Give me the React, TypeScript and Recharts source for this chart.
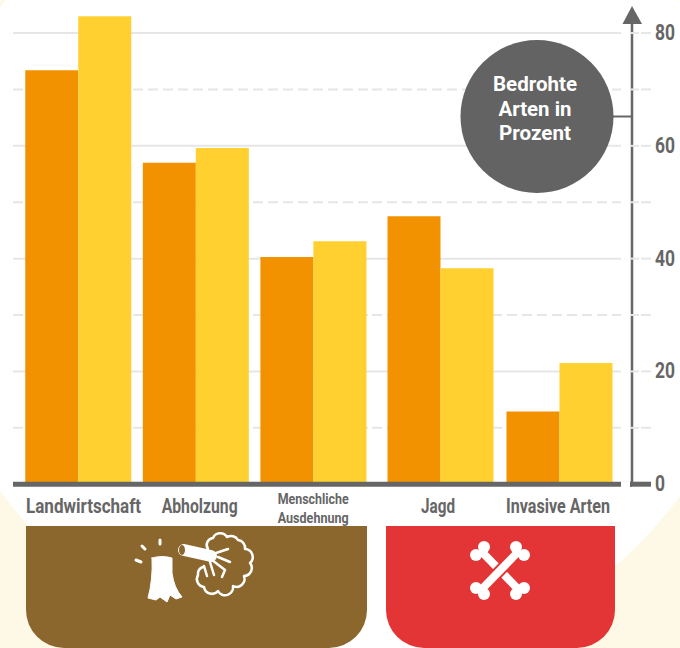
import { BarChart, Bar, XAxis, YAxis, CartesianGrid } from 'recharts';

const habitatCategories = ['Landwirtschaft', 'Abholzung', 'Menschliche\nAusdehnung'];
const habitatOrange = [73.4, 57, 40.3];
const habitatYellow = [83, 59.6, 43.1];

const huntingCategories = ['Jagd', 'Invasive Arten'];
const huntingOrange = [47.5, 12.9];
const huntingYellow = [38.3, 21.5];

const yTicks = [0, 10, 20, 30, 40, 50, 60, 70, 80];
const majorLines = [20, 40, 60, 80];
const minorLines = [10, 30, 50, 70];
const calloutLines = ['Bedrohte', 'Arten in', 'Prozent'];

const toRows = (names: string[], a: number[], b: number[]) =>
  names.map((name, i) => ({ name, orange: a[i], yellow: b[i] }));

const FONT = 'Roboto, sans-serif';
const GREY = '#666666';
const GRID = '#e6e6e6';
const ORANGE = '#f39200';
const YELLOW = '#ffd030';
const DOMAIN: [number, number] = [0, 84];
const CHART_MARGIN_TOP = 10.5;
const CHART_MARGIN_BOTTOM = 103.8;

// the reference uses a condensed face, so each label is squeezed to its measured width
const labelNudge: Record<string, number> = { Landwirtschaft: 5.5, Abholzung: 4, Jagd: -2, 'Invasive Arten': -1 };
const labelWidth: Record<string, number> = {
  Landwirtschaft: 115, Abholzung: 76, Menschliche: 71, Ausdehnung: 71, Jagd: 34, 'Invasive Arten': 104,
};
const calloutWidth = [84, 73, 72];

function XTick({ x, y, payload }: any) {
  const lines = String(payload.value).split('\n');
  const nudge = labelNudge[payload.value] ?? 0;
  if (lines.length > 1) {
    return (
      <g>
        {lines.map((l, i) => (
          <text key={l} x={x + nudge} y={y + 11.5 + i * 19.5} textAnchor="middle" fontFamily={FONT} fontWeight={700} fontSize={15.5} fill={GREY}
            textLength={labelWidth[l]} lengthAdjust="spacingAndGlyphs">
            {l}
          </text>
        ))}
      </g>
    );
  }
  return (
    <text x={x + nudge} y={y + 20.5} textAnchor="middle" fontFamily={FONT} fontWeight={700} fontSize={20} fill={GREY}
      textLength={labelWidth[payload.value]} lengthAdjust="spacingAndGlyphs">
      {payload.value}
    </text>
  );
}

function YTick({ x, y, payload }: any) {
  const v = payload.value;
  const zero = v === 0;
  const major = v % 20 === 0;
  // x is the axis line, the short gap left of the ticks is painted out
  return (
    <g>
      <line x1={x - 19} x2={x - 10} y1={y} y2={y} stroke="#fff" strokeWidth={zero ? 6 : 3} />
      {zero ? (
        <line x1={x - 10} x2={x + 11} y1={y} y2={y} stroke={GREY} strokeWidth={5} />
      ) : (
        <>
          <line x1={x - 10} x2={x - 1} y1={y} y2={y} stroke={GRID} strokeWidth={2} />
          <line x1={x + 1} x2={x + 11} y1={y} y2={y} stroke={GRID} strokeWidth={2} />
        </>
      )}
      {major && (
        <text x={x + 15} y={y + 7} fontFamily={FONT} fontWeight={700} fontSize={22} fill={GREY}
          textLength={zero ? 10 : 20} lengthAdjust="spacingAndGlyphs">
          {v}
        </text>
      )}
    </g>
  );
}

function Grid() {
  return (
    <>
      <CartesianGrid vertical={false} horizontalValues={majorLines} stroke={GRID} strokeWidth={2} />
      <CartesianGrid vertical={false} horizontalValues={minorLines} stroke={GRID} strokeWidth={2} strokeDasharray="10 5" />
    </>
  );
}

function Background() {
  return (
    <svg width={680} height={648} style={{ position: 'absolute', left: 0, top: 0 }}>
      <rect width={680} height={648} fill="#fef8e7" />
      <circle cx={342} cy={249} r={418.5} fill="#fff" />
      <path d="M26 526H367V610A38 38 0 0 1 329 648H64A38 38 0 0 1 26 610Z" fill="#8b672e" />
      <path d="M386 526H615V610A38 38 0 0 1 577 648H424A38 38 0 0 1 386 610Z" fill="#e33535" />
      {/* stump */}
      <g fill="#fff" stroke="#fff" strokeLinecap="round">
        <path d="M152 558Q162 555 172 558L172 573Q174 588 182 597L176 599L170 595L167 602L160 597L156 600L148 598Q153 580 152 558Z" strokeWidth={1} />
        <line x1={160} y1={540} x2={160} y2={544} strokeWidth={3} />
        <line x1={142} y1={546} x2={145} y2={549} strokeWidth={3} />
        <line x1={136} y1={560} x2={141} y2={562} strokeWidth={3} />
      </g>
      {/* fallen tree */}
      <g fill="none" stroke="#fff" strokeLinecap="round" strokeLinejoin="round">
        <line x1={184} y1={550} x2={211} y2={556} strokeWidth={12} />
        <path d="M208 549A7 7 0 0 1 213 538A8 8 0 0 1 227 537A8 8 0 0 1 238 540A8 8 0 0 1 245 549A8 8 0 0 1 250 563A8 8 0 0 1 244 576A8 8 0 0 1 233 586A8 8 0 0 1 218 591A8 8 0 0 1 204 587A8 8 0 0 1 198 575A7 7 0 0 1 203 567" strokeWidth={2.5} />
        <path d="M210 555L228 549M218 557L230 562M212 560L225 570L222 577M210 562L214 575M204 566L207 576" strokeWidth={2.5} />
      </g>
      <ellipse cx={182} cy={550} rx={3} ry={5} fill="#8b672e" />
      {/* crossed bones */}
      <g fill="#fff">
        <line x1={481} y1={551} x2={519} y2={590} stroke="#fff" strokeWidth={8} />
        {[[484, 547], [476, 555], [516, 594], [524, 588]].map(([cx, cy]) => (
          <circle key={`${cx}-${cy}`} cx={cx} cy={cy} r={6} />
        ))}
        <line x1={519} y1={551} x2={481} y2={590} stroke="#e33535" strokeWidth={12} />
        <line x1={519} y1={551} x2={481} y2={590} stroke="#fff" strokeWidth={8} />
        {[[516, 547], [524, 555], [484, 594], [476, 588]].map(([cx, cy]) => (
          <circle key={`${cx}-${cy}`} cx={cx} cy={cy} r={6} />
        ))}
      </g>
    </svg>
  );
}

function Overlay() {
  return (
    <svg width={680} height={648} style={{ position: 'absolute', left: 0, top: 0, pointerEvents: 'none' }}>
      <path d="M622.5 24H642L632 6Z" fill={GREY} />
      <line x1={600} x2={632} y1={116.5} y2={116.5} stroke={GREY} strokeWidth={2} />
      <circle cx={537} cy={116.5} r={76.5} fill="#636363" />
      {calloutLines.map((l, i) => (
        <text key={l} x={535} y={91 + i * 24.5} fontFamily={FONT} fontWeight={700} fontSize={21} fill="#fff" textAnchor="middle"
          textLength={calloutWidth[i]} lengthAdjust="spacingAndGlyphs">
          {l}
        </text>
      ))}
    </svg>
  );
}

export default function App() {
  return (
    <div style={{ position: 'absolute', left: 0, top: 0, width: 680, height: 648, overflow: 'hidden' }}>
      <Background />
      <div style={{ position: 'absolute', left: 0, top: 0 }}>
        <BarChart
          width={372}
          height={648}
          data={toRows(habitatCategories, habitatOrange, habitatYellow)}
          margin={{ top: CHART_MARGIN_TOP, right: 0, bottom: CHART_MARGIN_BOTTOM, left: 13 }}
          barGap={0}
        >
          {Grid()}
          <XAxis
            dataKey="name"
            interval={0}
            height={60}
            padding={{ left: 6.25, right: 0 }}
            tickLine={false}
            axisLine={{ stroke: GREY, strokeWidth: 5 }}
            tick={<XTick />}
          />
          <YAxis hide domain={DOMAIN} />
          <Bar dataKey="orange" fill={ORANGE} barSize={53} isAnimationActive={false} />
          <Bar dataKey="yellow" fill={YELLOW} barSize={53} isAnimationActive={false} />
        </BarChart>
      </div>
      <div style={{ position: 'absolute', left: 372, top: 0 }}>
        <BarChart
          width={308}
          height={648}
          data={toRows(huntingCategories, huntingOrange, huntingYellow)}
          margin={{ top: CHART_MARGIN_TOP, right: 0, bottom: CHART_MARGIN_BOTTOM, left: 0 }}
          barGap={0}
        >
          {Grid()}
          <XAxis
            dataKey="name"
            interval={0}
            height={60}
            padding={{ left: 8.5, right: 13.5 }}
            tickLine={false}
            axisLine={{ stroke: GREY, strokeWidth: 5 }}
            tick={<XTick />}
          />
          <YAxis
            orientation="right"
            width={48}
            domain={DOMAIN}
            ticks={yTicks}
            interval={0}
            tickLine={false}
            axisLine={{ stroke: GREY, strokeWidth: 2.5 }}
            tick={<YTick />}
          />
          <Bar dataKey="orange" fill={ORANGE} barSize={53} isAnimationActive={false} />
          <Bar dataKey="yellow" fill={YELLOW} barSize={53} isAnimationActive={false} />
        </BarChart>
      </div>
      <Overlay />
    </div>
  );
}
